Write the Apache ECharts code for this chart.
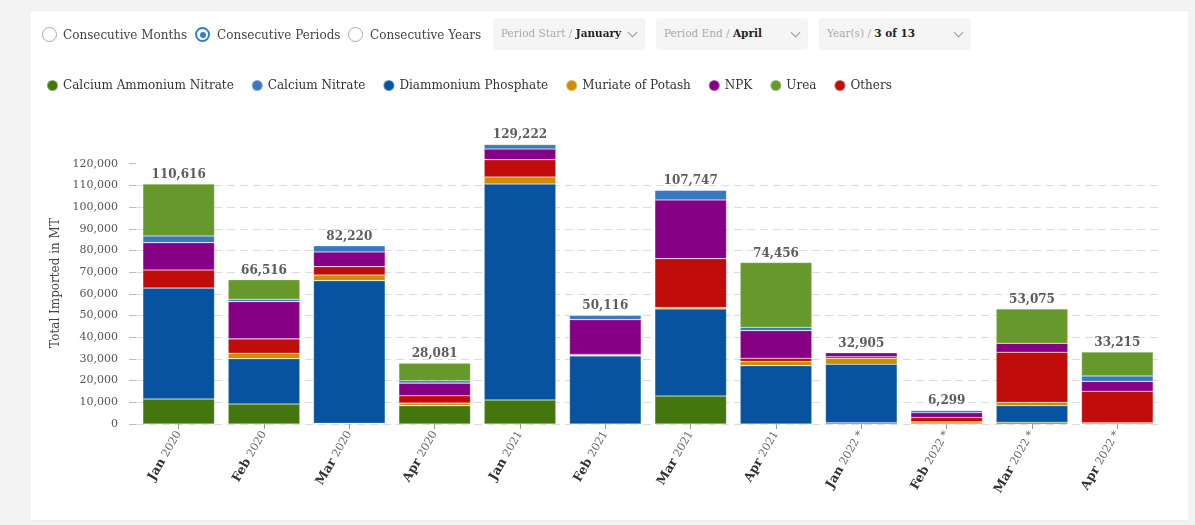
<!DOCTYPE html>
<html>
<head>
<meta charset="utf-8">
<script src="https://cdn.jsdelivr.net/npm/echarts@6/dist/echarts.min.js"></script>
<style>
  html, body { margin:0; padding:0; width:1195px; height:525px; overflow:hidden; background:#f3f3f3; font-family:"DejaVu Serif", serif; }
  #card { position:absolute; left:31px; top:10px; width:1157px; height:509px; background:#fff; border-top:1px solid #ececec; border-bottom:1px solid #ececec; }
  #chart { position:absolute; left:0; top:0; width:1195px; height:525px; }
  #controls { position:absolute; left:0; top:0; width:1195px; height:60px; z-index:5; font-size:12px; color:#444; }
  .radio { position:absolute; top:27px; width:15px; height:15px; border:1px solid #aaa; border-radius:50%; box-sizing:border-box; background:#fff; }
  .radio.on { border:2px solid #2d7fd3; }
  .radio.on::after { content:""; position:absolute; left:2.5px; top:2.5px; width:6px; height:6px; border-radius:50%; background:#2d7fd3; }
  .rlabel { position:absolute; top:27px; line-height:16px; white-space:nowrap; }
  .dd { position:absolute; top:18px; height:32px; width:152px; background:#f5f5f5; border-radius:4px; box-sizing:border-box; padding-left:8px; line-height:31px; white-space:nowrap; color:#aaa; font-size:10.5px; }
  .dd b { color:#222; font-weight:bold; }
  .dd .chev { position:absolute; right:9px; top:11px; width:6px; height:6px; border-right:1px solid #999; border-bottom:1px solid #999; transform:rotate(45deg); }
</style>
</head>
<body>
<div id="card"></div>
<div id="chart"></div>
<div id="controls">
  <div class="radio" style="left:42px"></div><div class="rlabel" style="left:63px">Consecutive Months</div>
  <div class="radio on" style="left:195px"></div><div class="rlabel" style="left:217px">Consecutive Periods</div>
  <div class="radio" style="left:348px"></div><div class="rlabel" style="left:370px">Consecutive Years</div>
  <div class="dd" style="left:493px">Period Start / <b>January</b><span class="chev"></span></div>
  <div class="dd" style="left:656px">Period End / <b>April</b><span class="chev"></span></div>
  <div class="dd" style="left:819px">Year(s) / <b>3 of 13</b><span class="chev"></span></div>
</div>
<script>
const categories = ['Jan 2020','Feb 2020','Mar 2020','Apr 2020','Jan 2021','Feb 2021','Mar 2021','Apr 2021','Jan 2022 *','Feb 2022 *','Mar 2022 *','Apr 2022 *'];
const totals = [110616, 66516, 82220, 28081, 129222, 50116, 107747, 74456, 32905, 6299, 53075, 33215];

const calciumAmmoniumNitrate = [11500, 9230, 300, 8450, 11080, 0, 12900, 0, 600, 0, 780, 0];
const diammoniumPhosphate   = [51200, 20900, 65780, 100, 99550, 31366, 40150, 26920, 26950, 0, 7660, 0];
const muriateOfPotash       = [0, 2500, 2600, 1080, 3230, 300, 600, 1850, 2770, 1000, 1570, 600];
const others                = [8300, 6600, 3850, 3380, 8000, 400, 22600, 1540, 700, 2000, 23080, 14500];
const npk                   = [12600, 17200, 6770, 5850, 4920, 16050, 27037, 12740, 1885, 2200, 4150, 4550];
const calciumNitrate        = [3100, 1100, 2920, 1080, 2000, 2000, 4460, 1540, 0, 1099, 0, 2500];
const urea                  = [23916, 8986, 0, 8141, 442, 0, 0, 29866, 0, 0, 15835, 11065];

const yTicks = [0,10000,20000,30000,40000,50000,60000,70000,80000,90000,100000,110000,120000];

const FONT = 'DejaVu Serif';
const stackOrder = [
  ['Calcium Ammonium Nitrate', calciumAmmoniumNitrate, '#44760e'],
  ['Diammonium Phosphate', diammoniumPhosphate, '#0753a0'],
  ['Muriate of Potash', muriateOfPotash, '#d08c00'],
  ['Others', others, '#c10c0c'],
  ['NPK', npk, '#850085'],
  ['Calcium Nitrate', calciumNitrate, '#3878c0'],
  ['Urea', urea, '#66982b']
];
const legendOrder = ['Calcium Ammonium Nitrate','Calcium Nitrate','Diammonium Phosphate','Muriate of Potash','NPK','Urea','Others'];

const series = stackOrder.map(([name, data, color]) => ({
  name, type:'bar', stack:'total', data, barCategoryGap:'16%',
  itemStyle:{ color, borderColor:'rgba(255,255,255,0.35)', borderWidth:0.6 },
  emphasis:{ disabled:true }
}));
series.push({
  name:'Total', type:'scatter', data: totals, symbolSize:0, silent:true,
  label:{ show:true, position:'top', distance:3, fontFamily:FONT, fontWeight:'bold', fontSize:12, color:'#333',
    formatter: p => p.value.toLocaleString('en-US') }
});

const chart = echarts.init(document.getElementById('chart'), null, {renderer:'canvas'});
chart.setOption({
  animation:false,
  textStyle:{ fontFamily:FONT },
  legend:{
    data: legendOrder, left:41, top:74, icon:'circle', itemWidth:11, itemHeight:11, itemGap:17,
    textStyle:{ fontFamily:FONT, fontSize:12, color:'#333' }, selectedMode:false
  },
  grid:{ left:136, right:35, top:142, bottom:101, containLabel:false },
  xAxis:{
    type:'category', data:categories,
    axisLine:{ show:false },
    axisTick:{ show:true, alignWithLabel:true, length:5, lineStyle:{ color:'#999' } },
    axisLabel:{
      rotate:60, margin:8, interval:0,
      formatter: v => { const i = v.indexOf(' '); return '{m|' + v.slice(0,i) + '} {y|' + v.slice(i+1) + '}'; },
      rich:{ m:{ fontFamily:FONT, fontWeight:'bold', fontSize:12.5, color:'#333' }, y:{ fontFamily:FONT, fontSize:11, color:'#666' } }
    }
  },
  yAxis:{
    type:'value', min:0, max:130000, interval:10000,
    name:'Total Imported in MT', nameLocation:'middle', nameGap:69, nameRotate:90,
    nameTextStyle:{ fontFamily:FONT, fontSize:12, color:'#444' },
    axisLine:{ show:false },
    axisTick:{ show:true, length:7, customValues: yTicks, lineStyle:{ color:'#bbb' } },
    axisLabel:{ fontFamily:FONT, fontSize:11, color:'#555', margin:18, customValues: yTicks,
      formatter: v => v.toLocaleString('en-US') },
    splitLine:{ show:true, showMaxLine:false, lineStyle:{ color:'#dcdcdc', type:[8,5], width:1 } }
  },
  series
});
</script>
</body>
</html>
